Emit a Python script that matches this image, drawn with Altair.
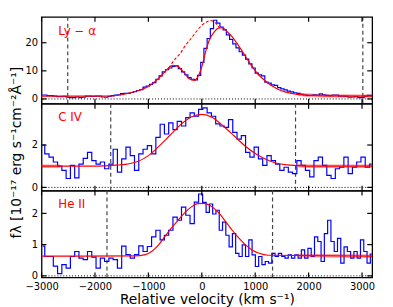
import altair as alt
import numpy as np
import pandas as pd

# ---------------- data ----------------
x_domain = [-3000, 3190]
x_ticks = [-3000, -2000, -1000, 0, 1000, 2000, 3000]
panel_labels = ["Ly − α", "C IV", "He II"]

# Ly-alpha observed (step), bins of 60 km/s
lya_v = np.arange(-2990, 3200, 60)
lya_f = [1.4, 1.4, 1.2, 1.2, 1.0, 0.8, 0.8, 0.9, 0.6, 0.5,
         0.5, 0.7, 0.5, 0.6, 1.0, 1.0, 0.9, 1.0, 1.0, 0.7,
         0.6, 0.9, 1.2, 1.4, 1.5, 1.9, 2.0, 2.0, 2.3, 2.6,
         3.0, 3.3, 4.2, 4.6, 5.2, 5.8, 7.0, 8.2, 9.6, 10.4,
         11.0, 11.6, 11.8, 10.8, 9.6, 8.6, 7.6, 7.0, 6.8, 8.4,
         13.0, 18.0, 21.5, 25.0, 28.0, 27.0, 25.6, 24.6, 22.8, 21.2,
         19.6, 18.2, 16.8, 15.6, 14.2, 12.5, 11.0, 9.2, 8.6, 8.2,
         6.0, 5.6, 5.0, 4.8, 4.0, 3.6, 3.2, 2.8, 2.5, 2.2,
         2.0, 1.6, 1.4, 1.3, 1.3, 1.5, 1.4, 1.8, 1.5, 1.3,
         1.2, 1.4, 1.4, 1.0, 1.0, 0.9, 0.6, 0.7, 0.8, 0.5,
         0.5, 1.0, 1.3, 1.2]
lya_model_v = [-3000, -2000, -1700, -1450, -1200, -1000, -880, -760, -640, -545,
               -450, -330, -240, -145, -50, 20, 80, 140, 230, 330,
               390, 480, 570, 700, 820, 940, 1060, 1190, 1310, 1490,
               1680, 1930, 2300, 3190]
lya_model_f = [1.0, 1.0, 1.05, 1.7, 2.9, 4.4, 6.1, 8.2, 10.7, 12.0,
               11.6, 9.3, 7.3, 6.6, 8.8, 12.8, 17.4, 20.9, 23.8, 25.3,
               25.3, 23.8, 22.1, 18.6, 15.1, 11.6, 8.7, 6.4, 4.7, 2.9,
               2.0, 1.4, 1.1, 1.0]
lya_intr_v = [-620, -500, -400, -300, -200, -100, 0, 80, 160, 240, 330]
lya_intr_f = [11.0, 14.2, 16.3, 19.2, 21.5, 24.0, 26.2, 27.3, 27.9, 27.3, 25.4]
lya_vlines = [-2510, 3015]
lya_windows = [(1800, 3190)]

# C IV observed (step), bins of 80 km/s
civ_v = np.arange(-2980, 3200, 80)
civ_f = [2.0, 1.58, 1.43, 1.2, 1.0, 0.8, 0.42, 1.04, 0.45, 1.1,
         1.37, 1.65, 1.26, 1.1, 1.2, 0.88, 1.1, 1.8, 0.72, 1.35,
         1.9, 1.5, 0.8, 1.58, 1.8, 1.97, 1.58, 2.36, 2.98, 2.52,
         3.05, 2.73, 3.12, 2.9, 3.29, 3.52, 3.36, 3.68,
         3.75, 3.52, 3.36, 3.0, 2.9, 2.83, 3.2, 2.6, 2.28, 2.44,
         1.65, 1.43, 1.9, 1.35, 1.04, 1.5, 1.26, 1.1, 0.8, 0.95,
         0.72, 0.65, 1.26, 1.04, 0.8, 0.5, 1.26, 1.43, 1.04, 0.57,
         0.42, 0.88, 0.95, 1.43, 0.65, 0.95, 1.2, 1.43, 0.95, 1.1]
civ_model_v = [-3000, -2000, -1800, -1600, -1400, -1200, -1000, -800, -600, -400,
               -200, 0, 200, 400, 600, 800, 1000, 1200, 1400, 1600,
               1800, 2000, 3190]
civ_model_f = [1.0, 1.0, 1.02, 1.05, 1.1, 1.22, 1.5, 1.95, 2.45, 2.95,
               3.32, 3.45, 3.3, 2.9, 2.45, 1.98, 1.6, 1.33, 1.14, 1.06,
               1.03, 1.0, 1.0]
civ_vlines = [-1705, 1755]
civ_windows = [(-3000, -2650), (1800, 3190)]

# He II observed (step)
heii_v = np.concatenate([np.arange(-2980, 0, 80), np.arange(50, 3200, 61.5)])
heii_f = [0.95, 0.62, 0.62, 0.31, 0.07, 0.36, 0.25, 0.62, 0.78, 0.57,
          0.52, 0.78, 0.6, 0.25, 0.57, 0.46, 0.57, 0.52, 0.25, 0.95,
          0.68, 0.57, 0.68, 0.96, 0.78, 0.94, 1.25, 1.46, 1.15, 1.3,
          1.46, 1.88, 1.78, 2.2, 1.94, 1.67, 2.36, 2.62,
          2.35, 2.03, 2.3, 1.98, 2.1, 1.46, 1.72, 1.3, 0.93, 1.35,
          0.72, 0.62, 0.99, 0.62, 1.15, 0.67, 0.3, 0.62, 0.36, 0.46,
          0.41, 0.72, 0.62, 0.72, 0.62, 0.57, 0.67, 0.57, 0.67, 0.57,
          0.83, 0.57, 0.88, 0.62, 1.25, 1.1, 0.46, 1.35, 1.78, 1.1,
          0.78, 1.2, 0.41, 0.93, 0.78, 0.57, 0.78, 0.57, 1.15, 0.78,
          0.41, 0.7]
heii_model_v = [-3000, -1250, -1060, -940, -820, -700, -570, -450, -330, -200,
                -80, 40, 200, 330, 450, 570, 700, 820, 940, 1060,
                1250, 3190]
heii_model_f = [0.63, 0.64, 0.68, 0.78, 0.97, 1.24, 1.53, 1.77, 2.0, 2.2,
                2.31, 2.32, 2.2, 1.99, 1.73, 1.46, 1.2, 0.99, 0.83, 0.73,
                0.66, 0.63]
heii_vlines = [-1775, 1325]
heii_windows = [(1800, 3190)]

ydomains = [[-1.7, 29.2], [-0.15, 3.95], [-0.05, 2.73]]
yticks = [[0, 10, 20], [0, 2], [0, 1, 2]]

ytitle = "fλ [10⁻¹⁷ erg s⁻¹cm⁻²Å⁻¹]"
xtitle = "Relative velocity (km s⁻¹)"

W, H = 335, 88
FONT = "DejaVu Sans"


def thick_df(mv, mf, windows):
    rows = []
    for i, (a, b) in enumerate(windows):
        xs = [a] + [x for x in mv if a < x < b] + [b]
        for x in xs:
            rows.append({"v": x, "f": float(np.interp(x, mv, mf)), "seg": str(i)})
    return pd.DataFrame(rows)


def make_panel(obs_v, obs_f, mv, mf, windows, vlines, label, ydom, yt,
               show_x, show_ytitle, iv=None, inf=None):
    xs = alt.Scale(domain=x_domain, nice=False, zero=False)
    ys = alt.Scale(domain=ydom, nice=False, zero=False)
    if show_x:
        xax = alt.Axis(values=x_ticks, format="d", tickSize=0, labelPadding=4,
                       labelFlush=False, labelOverlap=False,
                       domain=False, grid=False, labelFontSize=10, labelFont=FONT,
                       labelColor="black", title=xtitle, titleFontSize=14,
                       titleFont=FONT, titleFontWeight="normal", titleColor="black",
                       titlePadding=1)
    else:
        xax = None
    if show_ytitle:
        yax = alt.Axis(values=yt, tickSize=0, labelPadding=4, domain=False, grid=False,
                       labelFontSize=10, labelFont=FONT, labelColor="black",
                       title=ytitle, titleFontSize=14, titleFont=FONT,
                       titleFontWeight="normal", titleColor="black",
                       titlePadding=8, titleY=49)
    else:
        yax = alt.Axis(values=yt, tickSize=0, labelPadding=4, domain=False, grid=False,
                       labelFontSize=10, labelFont=FONT, labelColor="black", title=None)

    def X():
        return alt.X("v:Q", scale=xs, axis=xax)

    def Y():
        return alt.Y("f:Q", scale=ys, axis=yax)

    layers = []
    layers.append(alt.Chart(pd.DataFrame({"f": [0]})).mark_rule(
        color="black", strokeDash=[1, 2], strokeWidth=1).encode(y=Y()))
    layers.append(alt.Chart(pd.DataFrame({"v": vlines})).mark_rule(
        color="#444444", strokeDash=[4, 3], strokeWidth=1.2).encode(x=X()))
    layers.append(alt.Chart(pd.DataFrame({"v": obs_v, "f": obs_f})).mark_line(
        interpolate="step", color="#0000ff", strokeWidth=1.2).encode(x=X(), y=Y()))
    layers.append(alt.Chart(thick_df(mv, mf, windows)).mark_line(
        interpolate="monotone", color="#ff0000", opacity=0.4, strokeWidth=3.5).encode(
        x=X(), y=Y(), detail="seg:N"))
    layers.append(alt.Chart(pd.DataFrame({"v": mv, "f": mf})).mark_line(
        interpolate="monotone", color="#ff0000", strokeWidth=1.2).encode(x=X(), y=Y()))
    if iv is not None:
        layers.append(alt.Chart(pd.DataFrame({"v": iv, "f": inf})).mark_line(
            interpolate="monotone", color="#ff0000", strokeWidth=1.1,
            strokeDash=[3, 2]).encode(x=X(), y=Y()))
    layers.append(alt.Chart(pd.DataFrame({"t": [label]})).mark_text(
        align="left", baseline="middle", color="#ff0000", fontSize=12, font=FONT).encode(
        x=alt.value(17), y=alt.value(14), text="t:N"))
    xt = pd.DataFrame({"v": x_ticks})
    ytk = pd.DataFrame({"f": yt})
    tick_kw = dict(color="black", strokeWidth=1.2)
    layers.append(alt.Chart(xt).mark_rule(**tick_kw).encode(
        x=X(), y=alt.value(0), y2=alt.value(5)))
    layers.append(alt.Chart(xt).mark_rule(**tick_kw).encode(
        x=X(), y=alt.value(H - 5), y2=alt.value(H)))
    layers.append(alt.Chart(ytk).mark_rule(**tick_kw).encode(
        y=Y(), x=alt.value(0), x2=alt.value(5)))
    layers.append(alt.Chart(ytk).mark_rule(**tick_kw).encode(
        y=Y(), x=alt.value(W - 5), x2=alt.value(W)))
    return alt.layer(*layers).properties(width=W, height=H)


top = make_panel(lya_v, lya_f, lya_model_v, lya_model_f, lya_windows, lya_vlines,
                 panel_labels[0], ydomains[0], yticks[0], False, False,
                 lya_intr_v, lya_intr_f)
mid = make_panel(civ_v, civ_f, civ_model_v, civ_model_f, civ_windows, civ_vlines,
                 panel_labels[1], ydomains[1], yticks[1], False, True)
bot = make_panel(heii_v, heii_f, heii_model_v, heii_model_f, heii_windows, heii_vlines,
                 panel_labels[2], ydomains[2], yticks[2], True, False)

chart = alt.vconcat(top, mid, bot, spacing=0, bounds="flush").resolve_scale(
    x="independent", y="independent").properties(
    padding={"left": 0, "top": 5, "right": 5, "bottom": 0}).configure_view(
    stroke="black", strokeWidth=1.3)

chart.save("out.html", embed_options={"renderer": "svg", "actions": False})
